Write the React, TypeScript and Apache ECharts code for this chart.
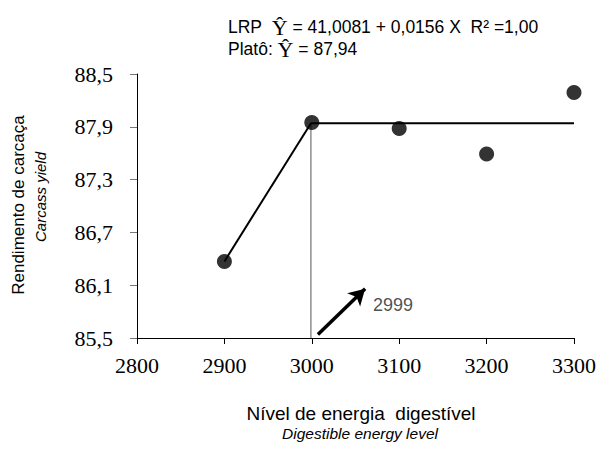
import React, { useEffect, useRef } from "react";
import * as echarts from "echarts";

const energyLevels = [2900, 3000, 3100, 3200, 3300];
const carcassYield = [86.37, 87.95, 87.88, 87.59, 88.29];
const linearSegment: [number, number][] = [[2900, 86.37], [2999, 87.94]];
const plateauSegment: [number, number][] = [[2999, 87.94], [3300, 87.94]];
const breakLine: [number, number][] = [[2999, 85.5], [2999, 87.94]];
const arrowFrom: [number, number] = [3007, 85.54];
const arrowTo: [number, number] = [3061, 86.06];
const breakLabelPos: [number, number] = [3070, 85.88];
const breakLabel = "2999";
const yTicks = [85.5, 86.1, 86.7, 87.3, 87.9, 88.5];
const xTicks = [2800, 2900, 3000, 3100, 3200, 3300];

export default function App() {
  const ref = useRef<HTMLDivElement>(null);
  useEffect(() => {
    const chart = echarts.init(ref.current!, null, { renderer: "svg" });
    const sans = "Liberation Sans";
    const serif = "'Liberation Serif', 'Times New Roman', serif";
    const serifRich = { s: { fontFamily: serif, fontSize: 22, color: "#000" } };
    chart.setOption({
      animation: false,
      backgroundColor: "#fff",
      grid: { left: 137, right: 25, top: 74, bottom: 118 },
      xAxis: {
        type: "value",
        min: 2800,
        max: 3300,
        interval: 100,
        splitLine: { show: false },
        axisLine: { lineStyle: { color: "#000", width: 1 } },
        axisTick: { show: true, length: 6, lineStyle: { color: "#000" } },
        axisLabel: {
          color: "#000",
          fontFamily: serif,
          fontSize: 22,
          margin: 16,
          rich: serifRich,
          formatter: (v: number) => {
            const t = xTicks.find((k) => Math.abs(k - v) < 1e-6);
            return t === undefined ? "" : "{s|" + String(t) + "}";
          },
        },
      },
      yAxis: {
        type: "value",
        min: 85.5,
        max: 88.5,
        interval: 0.6,
        splitLine: { show: false },
        axisLine: { show: true, lineStyle: { color: "#000", width: 1 } },
        axisTick: { show: true, length: 7, lineStyle: { color: "#777" } },
        axisLabel: {
          color: "#000",
          fontFamily: serif,
          fontSize: 22,
          margin: 24,
          rich: serifRich,
          formatter: (v: number) => {
            const t = yTicks.find((k) => Math.abs(k - v) < 1e-6);
            return t === undefined ? "" : "{s|" + t.toFixed(1).replace(".", ",") + "}";
          },
        },
      },
      series: [
        {
          type: "line",
          data: linearSegment,
          symbol: "none",
          lineStyle: { color: "#000", width: 2 },
          z: 2,
        },
        {
          type: "line",
          data: plateauSegment,
          symbol: "none",
          lineStyle: { color: "#000", width: 2 },
          z: 2,
        },
        {
          type: "line",
          data: breakLine,
          symbol: "none",
          lineStyle: { color: "#555", width: 1 },
          z: 1,
          markLine: {
            silent: true,
            symbol: ["none", "arrow"],
            symbolSize: [14, 16],
            label: { show: false },
            lineStyle: { color: "#000", width: 3.5, type: "solid" },
            data: [[{ coord: arrowFrom }, { coord: arrowTo }]],
          },
        },
        {
          type: "scatter",
          data: carcassYield.map((v, i) => [energyLevels[i], v]),
          symbol: "circle",
          symbolSize: 15,
          itemStyle: { color: "#000" },
          z: 3,
        },
        {
          type: "scatter",
          data: [breakLabelPos],
          symbolSize: 0,
          label: {
            show: true,
            position: "right",
            distance: 0,
            formatter: breakLabel,
            color: "#222",
            fontFamily: sans,
            fontSize: 18,
          },
        },
      ],
      graphic: [
        {
          type: "text",
          left: 228,
          top: 16,
          style: {
            text: "LRP  {y|Ŷ} = 41,0081 + 0,0156 X  R² =1,00",
            rich: {
              y: { fontFamily: serif, fontSize: 22, lineHeight: 18, fill: "#000" },
            },
            fontFamily: sans,
            fontSize: 17.5,
            fill: "#000",
          },
        },
        {
          type: "text",
          left: 228,
          top: 38,
          style: {
            text: "Platô: {y|Ŷ} = 87,94",
            rich: {
              y: { fontFamily: serif, fontSize: 22, lineHeight: 18, fill: "#000" },
            },
            fontFamily: sans,
            fontSize: 17.5,
            fill: "#000",
          },
        },
        {
          type: "text",
          x: 18,
          y: 205,
          rotation: Math.PI / 2,
          style: {
            text: "Rendimento de carcaça",
            fontFamily: sans,
            fontSize: 17,
            fill: "#000",
            align: "center",
            verticalAlign: "middle",
          },
        },
        {
          type: "text",
          x: 40,
          y: 197,
          rotation: Math.PI / 2,
          style: {
            text: "Carcass yield",
            fontFamily: sans,
            fontStyle: "italic",
            fontSize: 15,
            fill: "#000",
            align: "center",
            verticalAlign: "middle",
          },
        },
        {
          type: "text",
          x: 361,
          y: 413,
          style: {
            text: "Nível de energia  digestível",
            fontFamily: sans,
            fontSize: 19,
            fill: "#000",
            align: "center",
            verticalAlign: "middle",
          },
        },
        {
          type: "text",
          x: 360,
          y: 433,
          style: {
            text: "Digestible energy level",
            fontFamily: sans,
            fontStyle: "italic",
            fontSize: 15.5,
            fill: "#000",
            align: "center",
            verticalAlign: "middle",
          },
        },
      ],
    });
    return () => chart.dispose();
  }, []);
  return (
    <div
      ref={ref}
      style={{ position: "fixed", left: 0, top: 0, width: 599, height: 456 }}
    />
  );
}
